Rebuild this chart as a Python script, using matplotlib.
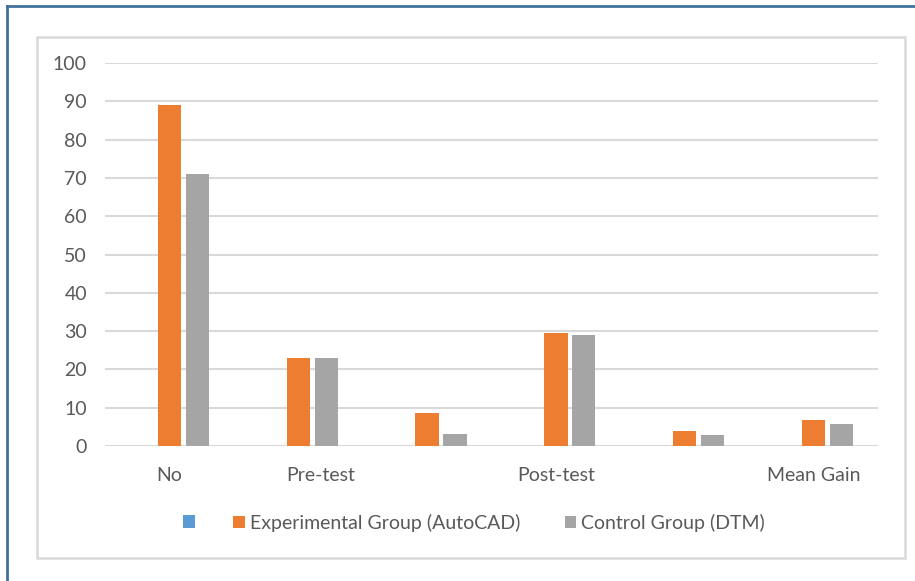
import matplotlib.pyplot as plt
import matplotlib.transforms as mtransforms
from matplotlib.patches import Rectangle
from matplotlib.lines import Line2D
import numpy as np

# data
categories = ['No', 'Pre-test', '', 'Post-test', '', 'Mean Gain']
series_names = ['', 'Experimental Group (AutoCAD)', 'Control Group (DTM)']
blank_series = [0, 0, 0, 0, 0, 0]
experimental = [89, 23, 8.6, 29.5, 3.8, 6.8]
control = [71, 23, 3.1, 29, 2.9, 5.8]
y_ticks = [0, 10, 20, 30, 40, 50, 60, 70, 80, 90, 100]

colors = ['#5B9BD5', '#ED7D31', '#A5A5A5']
text_color = '#595959'
grid_color = '#D9D9D9'

plt.rcParams['font.family'] = ['Lato', 'DejaVu Sans']

fig = plt.figure(figsize=(9.15, 5.81), dpi=100)
ax = fig.add_axes([105 / 915, 135 / 581, 773 / 915, 383 / 581])

x = np.arange(len(categories))
width = 0.18
step = 0.217
all_series = [blank_series, experimental, control]
for i, (vals, name, c) in enumerate(zip(all_series, series_names, colors)):
    ax.bar(x + (i - 1) * step, vals, width=width, color=c, label=name, zorder=3)

ax.set_xlim(-0.5, len(categories) - 0.5)
ax.set_ylim(0, 100)
ax.set_yticks(y_ticks)
ax.set_xticks(x)
ax.set_xticklabels(categories)
ax.tick_params(axis='both', length=0, labelsize=14, labelcolor=text_color)
ax.tick_params(axis='y', pad=13)
ax.tick_params(axis='x', pad=15)
ax.yaxis.grid(True, color=grid_color, linewidth=1.5, zorder=0)
for s in ax.spines.values():
    s.set_visible(False)

# the "Pre-test" label sits a bit to the right of its group
lbl = ax.get_xticklabels()[1]
lbl.set_transform(lbl.get_transform() + mtransforms.ScaledTranslation(0.22, 0, fig.dpi_scale_trans))

# legend: the blank series square on its own, then the two named series
handles = [Rectangle((0, 0), 1, 1, facecolor=c, edgecolor='none') for c in colors]
leg_y = 1 - 523 / 581
leg1 = fig.legend(handles[:1], [' '], loc='center left', bbox_to_anchor=(183 / 915, leg_y),
                  frameon=False, fontsize=14, handlelength=0.6, handleheight=0.6,
                  borderpad=0, borderaxespad=0, handletextpad=0)
leg2 = fig.legend(handles[1:], series_names[1:], loc='center left', bbox_to_anchor=(233 / 915, leg_y),
                  ncol=2, frameon=False, fontsize=14, handlelength=0.6, handleheight=0.6,
                  borderpad=0, borderaxespad=0, handletextpad=0.25, columnspacing=2.3)
for t in leg2.get_texts():
    t.set_color(text_color)

# chart area border and outer blue frame
fig.patches.append(Rectangle((37 / 915, 1 - 558 / 581), 868 / 915, 521 / 581,
                             transform=fig.transFigure, fill=False,
                             edgecolor=grid_color, linewidth=1.8))
fig.lines.append(Line2D([7 / 915, 7 / 915], [0, 1 - 6 / 581], transform=fig.transFigure,
                        color='#41719C', linewidth=2))
fig.lines.append(Line2D([7 / 915, 1], [1 - 6 / 581, 1 - 6 / 581], transform=fig.transFigure,
                        color='#41719C', linewidth=2))

fig.savefig('out.png', dpi=100)
